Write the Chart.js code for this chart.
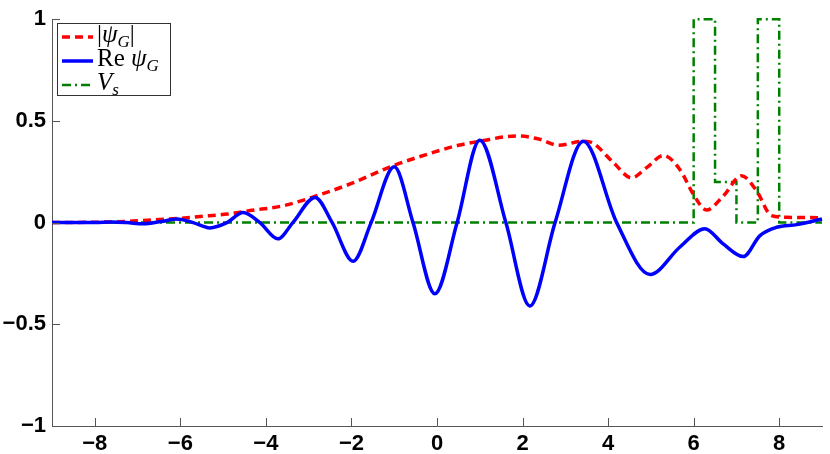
<!DOCTYPE html>
<html>
<head>
<meta charset="utf-8">
<script src="https://cdn.jsdelivr.net/npm/chart.js@4/dist/chart.umd.min.js"></script>
<style>
  html, body { margin: 0; padding: 0; background: #fff; }
</style>
</head>
<body>
<canvas id="chart" width="830" height="454"></canvas>
<script>
// tick values
const xTicks = [-8, -6, -4, -2, 0, 2, 4, 6, 8];
const yTicks = [-1, -0.5, 0, 0.5, 1];

// |psi_G|  (red dashed)
const absX = [-9, -8, -7.5, -6.94, -6.5, -6.07, -5.54, -4.9, -4.37, -3.59, -2.81, -2.03, -1.02, -0.09, 0.5, 1.0, 1.86, 2.4, 2.84, 3.42, 3.65, 4.12, 4.55, 4.9, 5.29, 5.68, 5.99, 6.3, 6.69, 7.12, 7.47, 7.82, 8.17, 9.0];
const absY = [0, 0.002, 0.004, 0.01, 0.015, 0.02, 0.03, 0.042, 0.059, 0.083, 0.132, 0.19, 0.28, 0.345, 0.38, 0.40, 0.426, 0.41, 0.38, 0.40, 0.39, 0.296, 0.22, 0.27, 0.33, 0.26, 0.14, 0.062, 0.13, 0.23, 0.157, 0.034, 0.026, 0.024];

// Re psi_G  (blue solid)
const reX = [-9, -8, -7.6, -7.25, -6.87, -6.45, -6.08, -5.7, -5.31, -4.91, -4.53, -4.14, -3.72, -3.37, -2.85, -2.45, -1.96, -1.54, -1.0, -0.56, -0.05, 0.47, 1.0, 1.61, 2.17, 2.76, 3.42, 4.2, 4.98, 5.68, 6.26, 6.69, 7.16, 7.55, 7.94, 8.41, 9.0];
const reY = [0, 0, 0.003, 0, -0.006, 0.005, 0.018, 0, -0.026, 0, 0.05, 0, -0.08, 0, 0.124, 0, -0.19, 0, 0.274, 0, -0.35, 0, 0.405, 0, -0.41, 0, 0.40, 0, -0.255, -0.12, -0.03, -0.105, -0.167, -0.064, -0.023, -0.01, 0.018];

// V_s  (green dash-dot)
const vX = [-9, 6, 6, 6.5, 6.5, 7, 7, 7.5, 7.5, 8, 8, 9];
const vY = [0, 0, 1, 1, 0.2, 0.2, 0, 0, 1, 1, 0, 0];

const toPoints = (xs, ys) => xs.map((x, i) => ({ x: x, y: ys[i] }));

const axisColor = '#555';
const fmt = v => String(v).replace('-', '\u2212');

// inward tick marks like matlab
const innerTicks = {
  id: 'innerTicks',
  afterDraw(chart) {
    const { ctx, chartArea, scales } = chart;
    ctx.save();
    ctx.strokeStyle = axisColor;
    ctx.lineWidth = 1;
    ctx.beginPath();
    xTicks.forEach(v => {
      const px = Math.round(scales.x.getPixelForValue(v)) + 0.5;
      ctx.moveTo(px, chartArea.bottom);
      ctx.lineTo(px, chartArea.bottom - 8);
    });
    yTicks.forEach(v => {
      const py = Math.round(scales.y.getPixelForValue(v)) + 0.5;
      ctx.moveTo(chartArea.left, py);
      ctx.lineTo(chartArea.left + 8, py);
    });
    ctx.stroke();
    ctx.restore();
  }
};

// text made of runs: [text, italic, sub]
function drawRuns(ctx, runs, x, y) {
  runs.forEach(r => {
    const size = r[2] ? 17 : 25;
    ctx.font = (r[1] ? 'italic ' : '') + size + 'px "Liberation Serif"';
    ctx.fillText(r[0], x, r[2] ? y + 5 : y);
    x += ctx.measureText(r[0]).width;
  });
}

const legendBox = {
  id: 'legendBox',
  afterDraw(chart) {
    const ctx = chart.ctx;
    ctx.save();
    ctx.fillStyle = '#fff';
    ctx.fillRect(57.5, 23.5, 113, 72);
    ctx.strokeStyle = '#333';
    ctx.lineWidth = 1;
    ctx.strokeRect(57.5, 23.5, 113, 72);

    const rows = [
      { color: '#ff0000', width: 3.5, dash: [8, 5], y: 37, runs: [['|', false, false], ['\u03c8', true, false], ['G', true, true], ['|', false, false]] },
      { color: '#0000ff', width: 3.5, dash: [], y: 61, runs: [['Re ', false, false], ['\u03c8', true, false], ['G', true, true]] },
      { color: '#008000', width: 2.5, dash: [9, 4, 2, 4], y: 85, runs: [['V', true, false], ['s', true, true]] }
    ];
    rows.forEach(r => {
      ctx.strokeStyle = r.color;
      ctx.lineWidth = r.width;
      ctx.setLineDash(r.dash);
      ctx.beginPath();
      ctx.moveTo(62, r.y);
      ctx.lineTo(93, r.y);
      ctx.stroke();
      ctx.setLineDash([]);
      ctx.fillStyle = '#000';
      ctx.textBaseline = 'alphabetic';
      drawRuns(ctx, r.runs, 97, r.y + 5);
    });
    ctx.restore();
  }
};

Chart.defaults.font.family = '"Liberation Sans Narrow", "Liberation Sans", Arial, sans-serif';

new Chart(document.getElementById('chart'), {
  type: 'line',
  data: {
    datasets: [
      {
        label: 'Re psi_G',
        data: toPoints(reX, reY),
        borderColor: '#0000ff',
        borderWidth: 3.5,
        cubicInterpolationMode: 'monotone',
        pointRadius: 0,
        fill: false,
        clip: 5,
        order: 1
      },
      {
        label: '|psi_G|',
        data: toPoints(absX, absY),
        borderColor: '#ff0000',
        borderWidth: 3.5,
        borderDash: [8, 5],
        cubicInterpolationMode: 'monotone',
        pointRadius: 0,
        fill: false,
        clip: 5,
        order: 2
      },
      {
        label: 'V_s',
        data: toPoints(vX, vY),
        borderColor: '#008000',
        borderWidth: 2.5,
        borderDash: [9, 4, 2, 4],
        tension: 0,
        pointRadius: 0,
        fill: false,
        clip: 5,
        order: 3
      }
    ]
  },
  options: {
    responsive: false,
    animation: false,
    layout: { padding: { top: 18, right: 8, left: 0, bottom: 0 } },
    plugins: {
      legend: { display: false },
      tooltip: { enabled: false }
    },
    scales: {
      x: {
        type: 'linear',
        min: -9,
        max: 9,
        afterBuildTicks: s => { s.ticks = xTicks.map(v => ({ value: v })); },
        afterFit: s => { s.height = 28; },
        grid: { display: false, drawTicks: false },
        border: { display: true, color: axisColor, width: 1 },
        ticks: {
          color: '#000',
          padding: 5,
          maxRotation: 0,
          font: { size: 22, weight: 'bold' },
          callback: fmt
        }
      },
      y: {
        type: 'linear',
        min: -1,
        max: 1,
        afterBuildTicks: s => { s.ticks = yTicks.map(v => ({ value: v })); },
        afterFit: s => { s.width = 52; },
        grid: { display: false, drawTicks: false },
        border: { display: true, color: axisColor, width: 1 },
        ticks: {
          color: '#000',
          padding: 6,
          font: { size: 22, weight: 'bold' },
          callback: fmt
        }
      }
    }
  },
  plugins: [innerTicks, legendBox]
});
</script>
</body>
</html>
